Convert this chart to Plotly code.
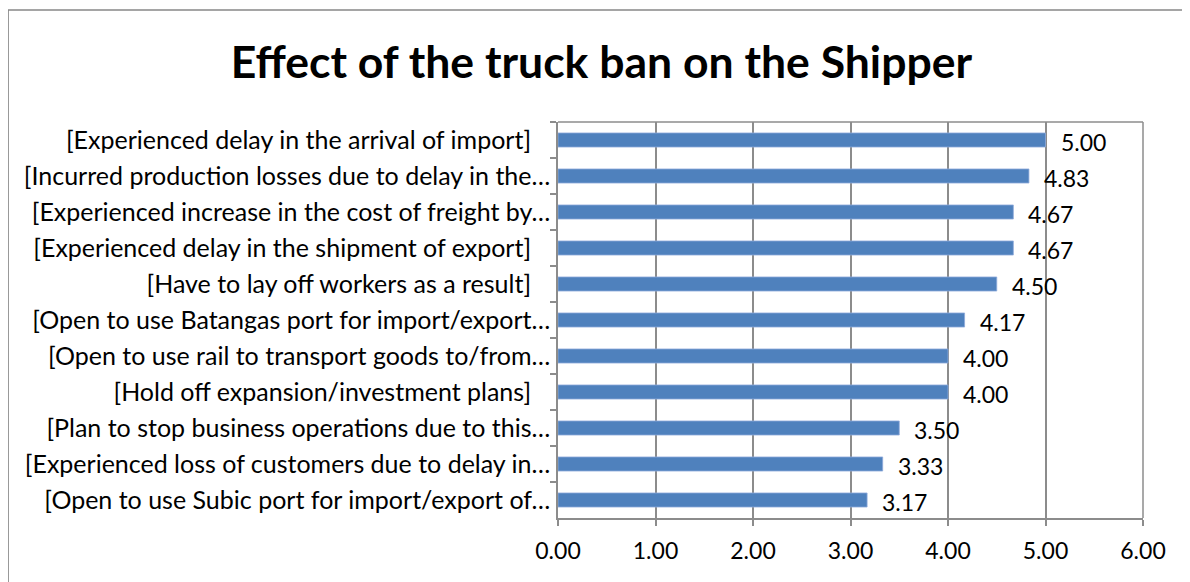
import plotly.graph_objects as go

categories = [
    "[Experienced delay in the arrival of import]\u00a0\u00a0\u00a0",
    "[Incurred production losses due to delay in the…",
    "[Experienced increase in the cost of freight by…",
    "[Experienced delay in the shipment of export]\u00a0\u00a0\u00a0",
    "[Have to lay off workers as a result]\u00a0\u00a0\u00a0",
    "[Open to use Batangas port for import/export…",
    "[Open to use rail to transport goods to/from…",
    "[Hold off expansion/investment plans]\u00a0\u00a0\u00a0",
    "[Plan to stop business operations due to this…",
    "[Experienced loss of customers due to delay in…",
    "[Open to use Subic port for import/export of…",
]
values = [5.00, 4.83, 4.67, 4.67, 4.50, 4.17, 4.00, 4.00, 3.50, 3.33, 3.17]
x_ticks = [0, 1, 2, 3, 4, 5, 6]
x_ticklabels = ["0.00", "1.00", "2.00", "3.00", "4.00", "5.00", "6.00"]

FONT = "Lato, Calibri, Carlito, sans-serif"

fig = go.Figure()
fig.add_trace(go.Bar(
    x=values, y=categories, orientation="h",
    marker=dict(color="#4F81BD", line=dict(color="#8EAADB", width=0.8)),
    width=0.39,
    hoverinfo="x+y",
))

for c, v in zip(categories, values):
    fig.add_annotation(x=v, y=c, text=f"{v:.2f}", showarrow=False,
                       xanchor="left", yanchor="middle", xshift=13, yshift=-2,
                       font=dict(family=FONT, size=23, color="#000000"))

fig.update_layout(
    width=1182, height=574,
    margin=dict(l=550, r=47, t=114, b=64),
    paper_bgcolor="white", plot_bgcolor="white",
    showlegend=False,
    title=dict(text="<b>Effect of the truck ban on the Shipper</b>",
               x=0.502, xanchor="center", y=0.906, yanchor="middle",
               font=dict(family=FONT, size=44.5, color="#000000")),
    font=dict(family=FONT, size=22, color="#000000"),
    shapes=[dict(type="rect", xref="paper", yref="paper",
                 x0=-0.940, x1=2.0, y0=-1.0, y1=1.283,
                 line=dict(color="#888888", width=1.5), fillcolor="rgba(0,0,0,0)",
                 layer="below")],
)

fig.update_xaxes(
    automargin=False,
    range=[0, 6], tickvals=x_ticks, ticktext=x_ticklabels,
    showgrid=True, gridcolor="#8C8C8C", gridwidth=1.5,
    showline=True, linecolor="#8C8C8C", linewidth=1.5, mirror=False,
    ticks="outside", ticklen=6, tickcolor="#8C8C8C", tickwidth=1.5,
    zeroline=False, tickfont=dict(family=FONT, size=23), ticklabelstandoff=6,
)
fig.update_yaxes(
    automargin=False,
    categoryorder="array", categoryarray=categories, autorange="reversed",
    showline=True, linecolor="#8C8C8C", linewidth=1.5,
    ticks="outside", ticklen=6, tickcolor="#8C8C8C", tickwidth=1.5,
    tickson="boundaries", showgrid=False,
    tickfont=dict(family=FONT, size=25), ticklabelstandoff=1,
)
fig.add_shape(type="line", xref="paper", yref="paper", x0=1, x1=1, y0=0, y1=1,
              line=dict(color="#8C8C8C", width=1.5))
fig.add_shape(type="line", xref="paper", yref="paper", x0=0, x1=1, y0=1, y1=1,
              line=dict(color="#8C8C8C", width=1.5))

fig.write_html("out.html")
